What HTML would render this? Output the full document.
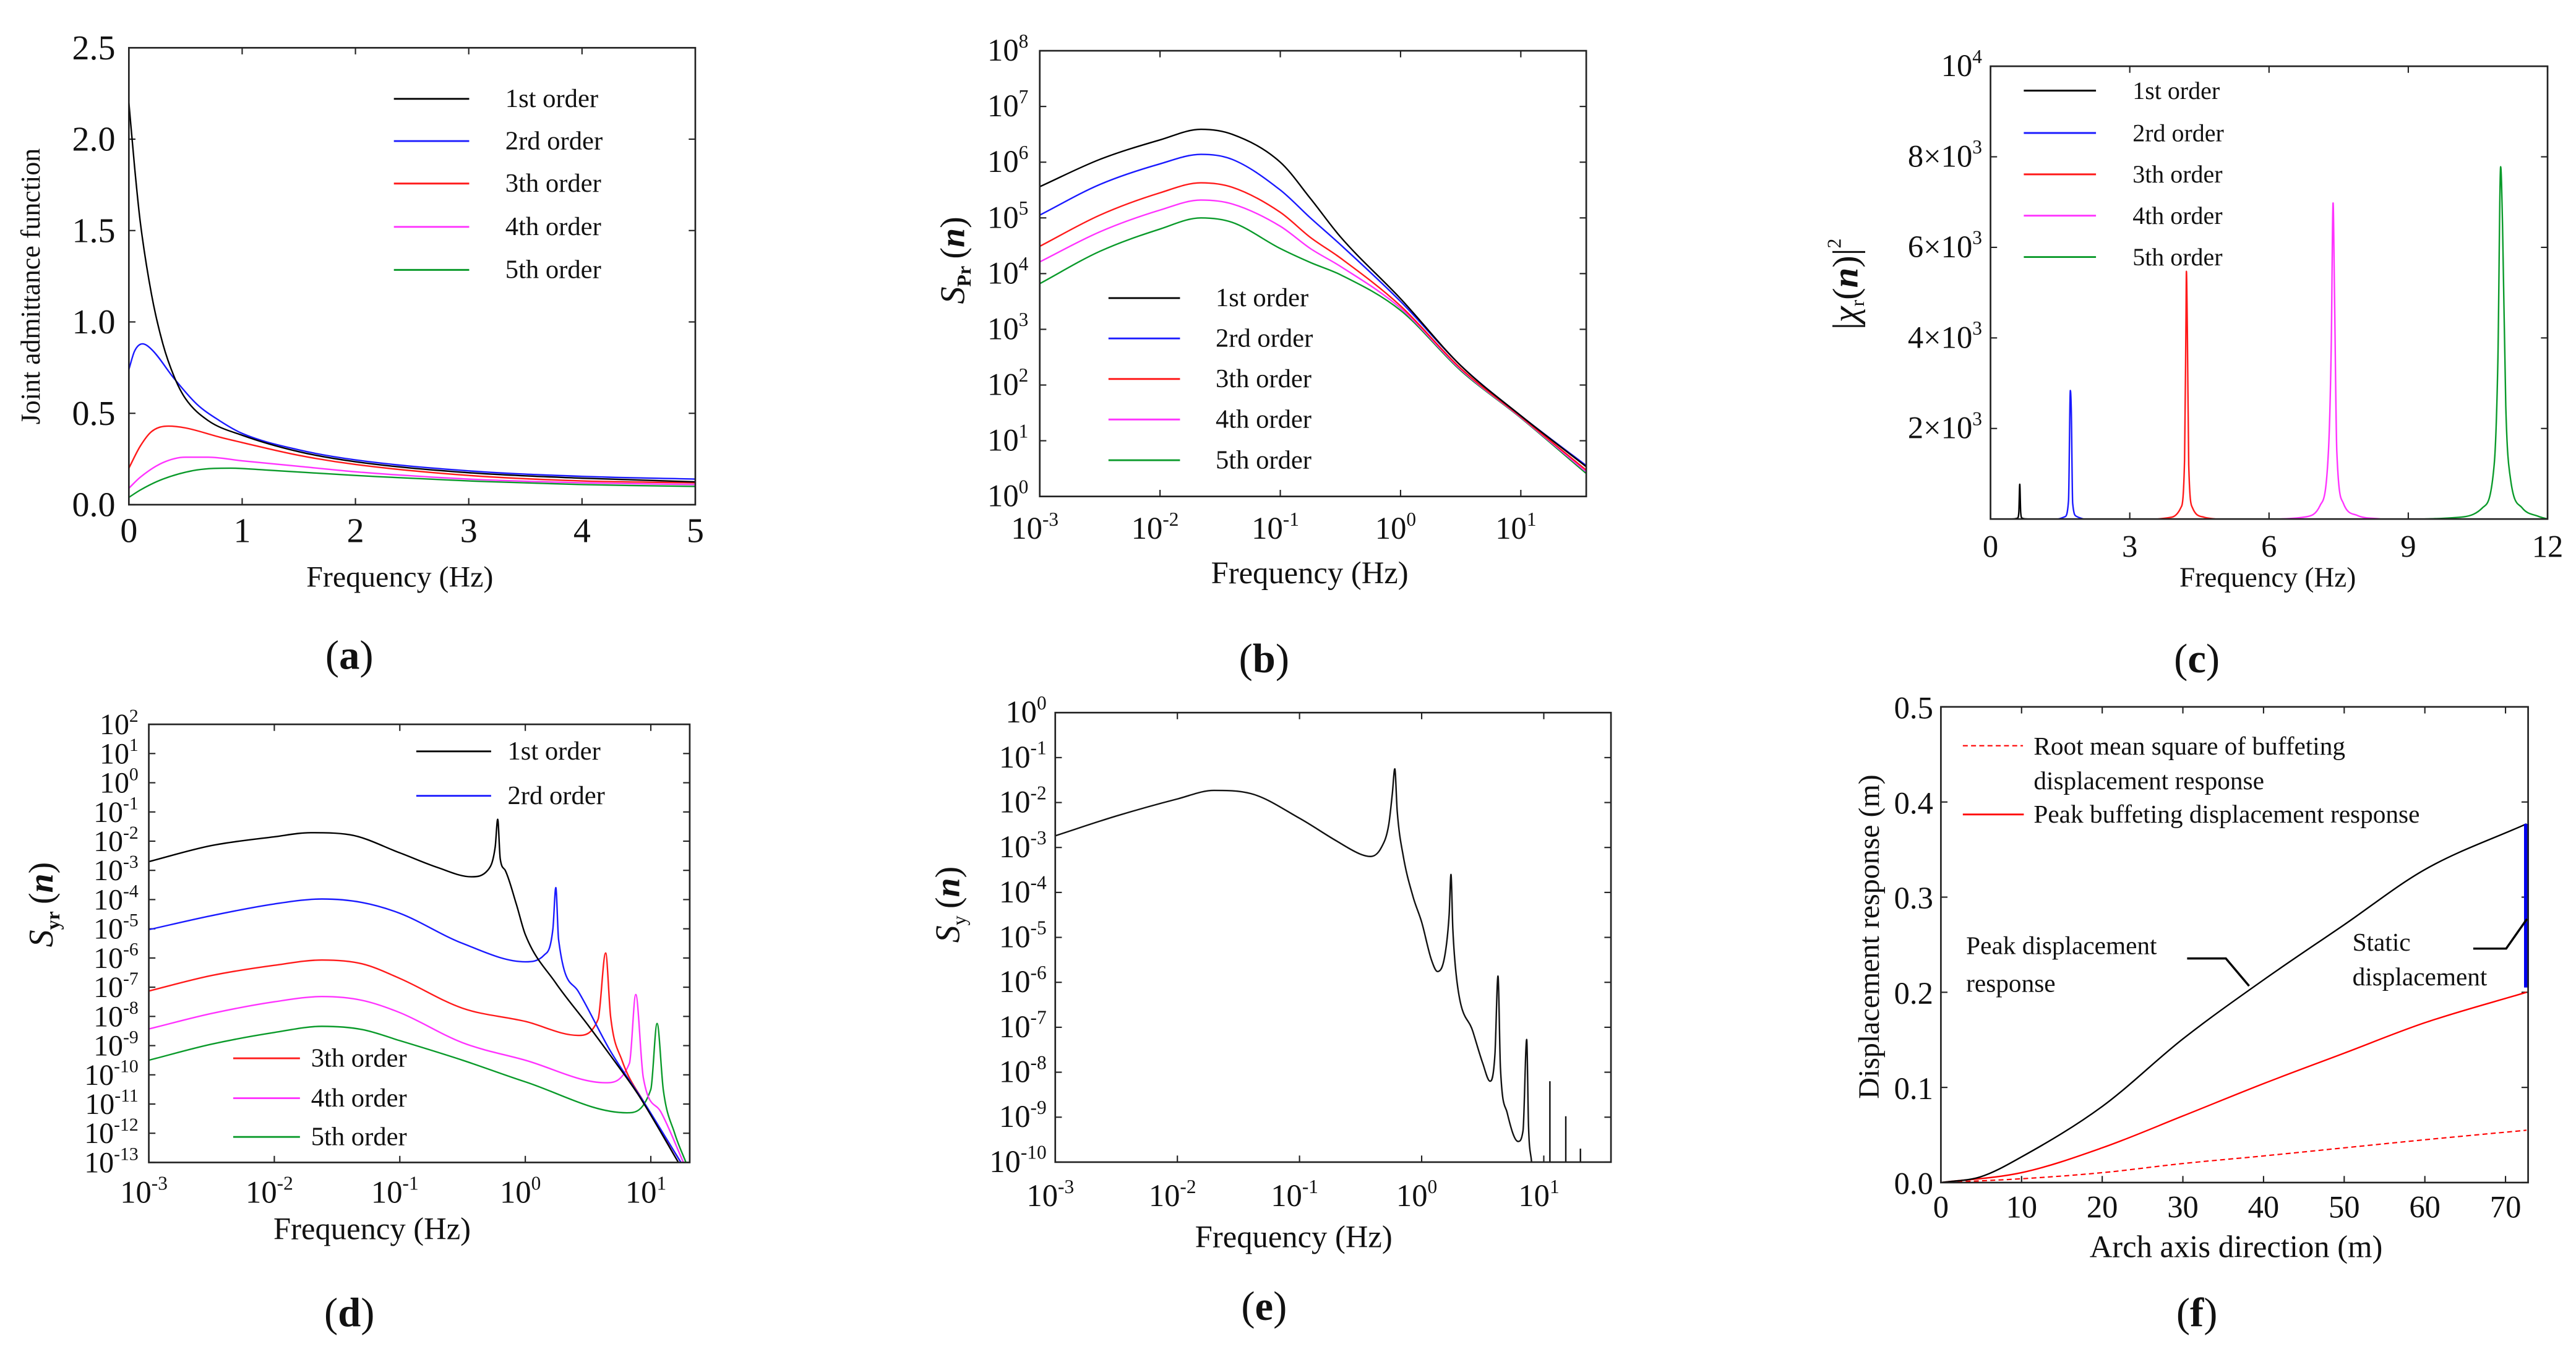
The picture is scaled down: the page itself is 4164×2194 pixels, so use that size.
<!DOCTYPE html>
<html><head><meta charset="utf-8"><title>Buffeting response figure</title>
<style>
html,body{margin:0;padding:0;background:#fff;}
svg{display:block;}
svg text{font-family:"Liberation Serif","DejaVu Serif",serif;}
</style></head>
<body>
<svg id="fig" xmlns="http://www.w3.org/2000/svg" width="4164" height="2194" viewBox="0 0 1563.06 823.57" font-family="Liberation Serif, DejaVu Serif, serif">
<rect x="0" y="0" width="1563.06" height="823.57" fill="#fff"/>
</svg>
<script>
// ---------- DATA ----------
// (a) joint admittance function
const aFreq1=[0,0.05,0.1,0.2,0.3,0.4,0.5,0.7,1,1.5,2,3,4,5];
const aVal1=[2.2,1.85,1.55,1.15,0.88,0.7,0.58,0.46,0.38,0.29,0.235,0.175,0.145,0.125];
const aFreq2=[0,0.05,0.12,0.2,0.4,0.6,0.8,1,1.5,2,3,4,5];
const aVal2=[0.74,0.84,0.88,0.85,0.69,0.55,0.46,0.39,0.3,0.245,0.185,0.155,0.14];
const aFreq3=[0,0.1,0.2,0.35,0.5,0.8,1,1.5,2,3,4,5];
const aVal3=[0.2,0.32,0.4,0.43,0.42,0.37,0.34,0.27,0.22,0.16,0.13,0.12];
const aFreq4=[0,0.1,0.3,0.5,0.7,1,1.5,2,3,4,5];
const aVal4=[0.09,0.15,0.23,0.26,0.26,0.24,0.21,0.18,0.14,0.12,0.11];
const aFreq5=[0,0.1,0.3,0.6,0.9,1.2,2,3,4,5];
const aVal5=[0.04,0.08,0.14,0.19,0.2,0.19,0.16,0.13,0.11,0.1];
const aXTicks=[0,1,2,3,4,5];
const aYTicks=[0,0.5,1.0,1.5,2.0,2.5];
const aYTickLabels=["0.0","0.5","1.0","1.5","2.0","2.5"];
const legendLabels=["1st order","2rd order","3th order","4th order","5th order"];

// (b) S_Pr(n) – log10 frequency / log10 value
const bLogFreq=[-3,-2.5,-2,-1.66,-1.4,-1,-0.75,-0.5,0,0.5,1,1.54];
const bLogS1=[5.56,6.05,6.4,6.59,6.5,6.0,5.35,4.66,3.55,2.35,1.45,0.54];
const bLogS2=[5.05,5.6,5.97,6.14,6.05,5.5,5.0,4.52,3.5,2.35,1.45,0.56];
const bLogS3=[4.49,5.05,5.45,5.63,5.55,5.1,4.65,4.28,3.42,2.3,1.43,0.48];
const bLogS4=[4.21,4.75,5.14,5.32,5.25,4.85,4.45,4.13,3.38,2.28,1.42,0.45];
const bLogS5=[3.82,4.4,4.8,5.0,4.92,4.45,4.2,3.98,3.34,2.26,1.41,0.42];
const bXTickExp=[-3,-2,-1,0,1];
const bYTickExp=[0,1,2,3,4,5,6,7,8];

// (c) |chi_r(n)|^2
const cFreq1=[0.45,0.58,0.61,0.63,0.65,0.68,0.8];
const cVal1=[0,20,150,767,150,20,0];
const cFreq2=[1.45,1.6,1.68,1.72,1.74,1.77,1.85,2.0];
const cVal2=[0,50,400,2840,2400,350,60,0];
const cFreq3=[3.6,3.9,4.1,4.18,4.21,4.22,4.24,4.27,4.35,4.6,4.85];
const cVal3=[0,40,250,1300,4300,5470,4200,1200,250,40,0];
const cFreq4=[6.25,6.8,7.1,7.28,7.34,7.38,7.41,7.46,7.6,7.9,8.4];
const cVal4=[0,50,300,1500,3800,6980,5000,1500,350,80,0];
const cFreq5=[9.35,10.2,10.6,10.85,10.93,10.99,11.03,11.1,11.2,11.45,11.8,12];
const cVal5=[0,50,250,1200,3500,7780,6500,2500,900,250,60,0];
const cXTicks=[0,3,6,9,12];
const cYTicks=[2000,4000,6000,8000,10000];
const cYTickMant=["2","4","6","8",""];

// (d) S_yr(n) – log10 frequency / log10 value
const dLogFreq1=[-3,-2.5,-2,-1.71,-1.4,-1,-0.7,-0.43,-0.3,-0.24,-0.22,-0.2,-0.16,-0.07,0,0.24,0.5,0.68,0.9,1.22];
const dLogS1=[-2.7,-2.15,-1.85,-1.71,-1.78,-2.4,-2.9,-3.22,-3.0,-2.2,-1.25,-2.6,-3.0,-4.18,-5.2,-6.84,-8.3,-9.35,-10.68,-13];
const dLogFreq2=[-3,-2.5,-2,-1.62,-1.3,-1,-0.5,0,0.15,0.22,0.243,0.265,0.42,0.68,0.95,1.24];
const dLogS2=[-5.03,-4.55,-4.15,-3.98,-4.1,-4.47,-5.5,-6.13,-5.9,-5.0,-3.59,-5.36,-7.13,-9.2,-10.97,-13];
const dLogFreq3=[-3,-2.5,-2,-1.62,-1.3,-1,-0.5,0,0.42,0.58,0.64,0.68,0.77,0.95,1.24];
const dLogS3=[-7.13,-6.6,-6.25,-6.07,-6.2,-6.7,-7.72,-8.17,-8.65,-8.1,-5.83,-8.02,-9.5,-10.97,-13];
const dLogFreq4=[-3,-2.5,-2,-1.62,-1.3,-1,-0.5,0,0.64,0.83,0.88,0.94,1.08,1.26];
const dLogS4=[-8.43,-7.9,-7.5,-7.32,-7.45,-7.87,-8.9,-9.5,-10.27,-9.6,-7.25,-10.09,-11.27,-13];
const dLogFreq5=[-3,-2.5,-2,-1.62,-1.3,-1,-0.5,0,0.81,1.0,1.05,1.1,1.19,1.28];
const dLogS5=[-9.5,-8.95,-8.55,-8.34,-8.45,-8.83,-9.5,-10.24,-11.3,-10.5,-8.24,-10.53,-12,-13];
const dXTickExp=[-3,-2,-1,0,1];
const dYTickExp=[2,1,0,-1,-2,-3,-4,-5,-6,-7,-8,-9,-10,-11,-12,-13];

// (e) S_y(n)
const eLogFreq=[-3,-2.5,-2,-1.7,-1.4,-1,-0.7,-0.5,-0.42,-0.33,-0.27,-0.24,-0.22,-0.2,-0.15,-0.07,0,0.08,0.13,0.19,0.225,0.24,0.255,0.29,0.42,0.5,0.56,0.6,0.625,0.645,0.7,0.79,0.83,0.86,0.875,0.9];
const eLogS=[-2.74,-2.3,-1.92,-1.73,-1.8,-2.35,-2.85,-3.15,-3.2,-3.0,-2.5,-1.8,-1.25,-2.2,-3.2,-4.1,-4.66,-5.5,-5.76,-5.4,-4.5,-3.6,-4.8,-6.0,-7.1,-7.8,-8.2,-7.6,-5.86,-7.9,-8.9,-9.54,-9.3,-7.27,-9.2,-10];
const eSpikeLogFreq=[1.05,1.18,1.3];
const eSpikeLogS=[-8.2,-8.98,-9.7];
const eXTickExp=[-3,-2,-1,0,1];
const eYTickExp=[0,-1,-2,-3,-4,-5,-6,-7,-8,-9,-10];

// (f) displacement response along arch axis
const fDist=[0,4.9,10,20,30,40,50,60,72.6];
const fPeakDisp=[0,0.006,0.027,0.08,0.151,0.213,0.271,0.329,0.377];
const fDistB=[0,10,20,30,40,50,60,72.6];
const fPeakBuffet=[0,0.0104,0.0365,0.07,0.104,0.136,0.168,0.2];
const fRmsBuffet=[0,0.004,0.0104,0.02,0.028,0.0365,0.045,0.055];
const fStaticX=[72.6];
const fStaticRange=[0.205,0.377];
const fXTicks=[0,10,20,30,40,50,60,70];
const fYTicks=[0,0.1,0.2,0.3,0.4,0.5];
const fYTickLabels=["0.0","0.1","0.2","0.3","0.4","0.5"];

const COLORS=["#000000","#1a1aff","#ff1a1a","#ff33ff","#0a9a2a"];

// ---------- HELPERS ----------
const NS="http://www.w3.org/2000/svg";
const svg=document.getElementById('fig');
const SERIF="Liberation Serif, DejaVu Serif, serif";
function mk(tag,attrs,parent){const e=document.createElementNS(NS,tag);for(const k in attrs)e.setAttribute(k,attrs[k]);if(tag==='text')e.setAttribute('font-family',SERIF);(parent||svg).appendChild(e);return e;}
function lin(d0,d1,r0,r1){return v=>r0+(v-d0)/(d1-d0)*(r1-r0);}
function monoPath(pts){
  const n=pts.length;if(n<2)return "";
  const dx=[],m=[];
  for(let i=0;i<n-1;i++){dx.push(pts[i+1][0]-pts[i][0]);m.push((pts[i+1][1]-pts[i][1])/(dx[i]||1e-6));}
  const t=new Array(n);t[0]=m[0];t[n-1]=m[n-2];
  for(let i=1;i<n-1;i++){t[i]=(m[i-1]*m[i]<=0)?0:(m[i-1]+m[i])/2;}
  for(let i=0;i<n-1;i++){if(m[i]===0){t[i]=0;t[i+1]=0;continue;}const a=t[i]/m[i],b=t[i+1]/m[i];const s=a*a+b*b;if(s>9){const k=3/Math.sqrt(s);t[i]=k*a*m[i];t[i+1]=k*b*m[i];}}
  let d="M"+pts[0][0].toFixed(2)+","+pts[0][1].toFixed(2);
  for(let i=0;i<n-1;i++){const h=dx[i]/3;d+=" C"+(pts[i][0]+h).toFixed(2)+","+(pts[i][1]+t[i]*h).toFixed(2)+" "+(pts[i+1][0]-h).toFixed(2)+","+(pts[i+1][1]-t[i+1]*h).toFixed(2)+" "+pts[i+1][0].toFixed(2)+","+pts[i+1][1].toFixed(2);}
  return d;
}
let clipId=0;
function frame(g,b,xt,yt,xs,ys){
  const cid='clip'+(clipId++);
  const cp=mk('clipPath',{id:cid},g);mk('rect',{x:b.x0,y:b.y0,width:b.x1-b.x0,height:b.y1-b.y0},cp);
  const tl=4;
  xt.forEach(v=>{const x=xs(v);
    const t1=mk('line',{x1:x,y1:b.y1,x2:x,y2:b.y1-tl,stroke:'#222','stroke-width':0.8},g);
    
    
    mk('line',{x1:x,y1:b.y0,x2:x,y2:b.y0+tl,stroke:'#222','stroke-width':0.8},g);});
  yt.forEach(v=>{const y=ys(v);
    const t2=mk('line',{x1:b.x0,y1:y,x2:b.x0+tl,y2:y,stroke:'#222','stroke-width':0.8},g);
    
    
    mk('line',{x1:b.x1,y1:y,x2:b.x1-tl,y2:y,stroke:'#222','stroke-width':0.8},g);});
  return cid;
}
function box(g,b){const r=mk('rect',{x:b.x0,y:b.y0,width:b.x1-b.x0,height:b.y1-b.y0,fill:'none',stroke:'#222','stroke-width':1},g);
  
  }
function txt(g,x,y,s,size,anchor,name){const t=mk('text',{x:x,y:y,'font-size':size,'text-anchor':anchor||'middle',fill:'#111'},g);t.textContent=s;
  
  return t;}
function powTxt(g,x,y,base,exp,size,anchor,name){const t=mk('text',{x:x,y:y,'font-size':size,'text-anchor':anchor,fill:'#111'},g);
  const a=mk('tspan',{},t);a.textContent=base;const b=mk('tspan',{dy:-size*0.42,'font-size':size*0.62},t);b.textContent=exp;
  
  return t;}
function series(g,pts,color,cid,name,w,dash){const p=mk('path',{d:monoPath(pts),fill:'none',stroke:color,'stroke-width':w||0.9,'clip-path':'url(#'+cid+')'},g);
  if(dash)p.setAttribute('stroke-dasharray',dash);
  
  return p;}
function legendRow(g,x1,x2,y,tx,color,label,size,name){
  const l=mk('line',{x1:x1,y1:y,x2:x2,y2:y,stroke:color,'stroke-width':1.1},g);
  
  
  txt(g,tx,y+5,label,size,'start',name+'-label');}
function panelLetter(g,x,y,letter,name){const t=mk('text',{x:x,y:y,'font-size':25,'text-anchor':'middle',fill:'#111'},g);
  const a=mk('tspan',{},t);a.textContent='(';const b=mk('tspan',{'font-weight':'bold'},t);b.textContent=letter;const c=mk('tspan',{},t);c.textContent=')';
  
  }
function group(name){const g=mk('g',{});return g;}
function zip(xa,ya,xs,ys){return xa.map((v,i)=>[xs(v),ys(ya[i])]);}

// ---------- PANEL A ----------
(function(){
  const g=group('panel-a-joint-admittance');
  const b={x0:78.2,x1:421.9,y0:29,y1:306.3};
  const xs=lin(0,5,b.x0,b.x1),ys=lin(0,2.5,b.y1,b.y0);
  const cid=frame(g,b,aXTicks,aYTicks,xs,ys);
  const fa=[aFreq1,aFreq2,aFreq3,aFreq4,aFreq5],va=[aVal1,aVal2,aVal3,aVal4,aVal5];
  for(let i=4;i>=0;i--)series(g,zip(fa[i],va[i],xs,ys),COLORS[i],cid,'series-order-'+(i+1));
  box(g,b);
  aXTicks.forEach(v=>txt(g,xs(v),329,String(v),21,'middle','x-tick-label'));
  aYTicks.forEach((v,i)=>txt(g,70,ys(v)+7,aYTickLabels[i],21,'end','y-tick-label'));
  const yl=txt(g,0,0,'Joint admittance function',16.5,'middle','y-axis-title');yl.setAttribute('transform','translate(24,173.8) rotate(-90)');
  txt(g,242.6,356,'Frequency (Hz)',18,'middle','x-axis-title');
  const ly=[60,85.6,111.4,137.7,163.8];
  legendLabels.forEach((s,i)=>legendRow(g,239,284.7,ly[i],306.6,COLORS[i],s,16,'legend-entry-'+(i+1)));
  panelLetter(g,212,406,'a','panel-label-a');
})();

// ---------- PANEL B ----------
(function(){
  const g=group('panel-b-spr');
  const b={x0:630.9,x1:962.5,y0:30.8,y1:301.3};
  const xs=lin(-3,1.544,b.x0,b.x1),ys=lin(0,8,b.y1,b.y0);
  const cid=frame(g,b,bXTickExp,bYTickExp,xs,ys);
  const va=[bLogS1,bLogS2,bLogS3,bLogS4,bLogS5];
  for(let i=4;i>=0;i--)series(g,zip(bLogFreq,va[i],xs,ys),COLORS[i],cid,'series-order-'+(i+1));
  box(g,b);
  bXTickExp.forEach(v=>powTxt(g,xs(v)-3,327,'10',String(v),19,'middle','x-tick-label'));
  bYTickExp.forEach(v=>powTxt(g,624,ys(v)+6,'10',String(v),19,'end','y-tick-label'));
  const t=mk('text',{'font-size':21,'text-anchor':'middle',fill:'#111',transform:'translate(585,158) rotate(-90)'},g);
  const s1=mk('tspan',{'font-style':'italic'},t);s1.textContent='S';
  const s2=mk('tspan',{'font-size':12,dy:4,'font-weight':'bold'},t);s2.textContent='Pr';
  const s3=mk('tspan',{dy:-4},t);s3.textContent='\u2009(';
  const s4=mk('tspan',{'font-style':'italic','font-weight':'bold'},t);s4.textContent='n';
  const s5=mk('tspan',{},t);s5.textContent=')';
  
  
  txt(g,794.7,354,'Frequency (Hz)',19,'middle','x-axis-title');
  const ly=[180.9,205.4,230,254.6,279.3];
  legendLabels.forEach((s,i)=>legendRow(g,672.6,716,ly[i],737.6,COLORS[i],s,16,'legend-entry-'+(i+1)));
  panelLetter(g,767,408,'b','panel-label-b');
})();

// ---------- PANEL C ----------
(function(){
  const g=group('panel-c-mechanical-admittance');
  const b={x0:1207.8,x1:1545.8,y0:40.2,y1:315};
  const xs=lin(0,12,b.x0,b.x1),ys=lin(0,10000,b.y1,b.y0);
  const cid=frame(g,b,cXTicks,cYTicks,xs,ys);
  const fa=[cFreq1,cFreq2,cFreq3,cFreq4,cFreq5],va=[cVal1,cVal2,cVal3,cVal4,cVal5];
  for(let i=0;i<5;i++)series(g,zip(fa[i],va[i],xs,ys),COLORS[i],cid,'series-order-'+(i+1),0.9);
  box(g,b);
  cXTicks.forEach(v=>txt(g,xs(v),338,String(v),19,'middle','x-tick-label'));
  cYTicks.forEach((v,i)=>{
    if(cYTickMant[i]==="") powTxt(g,1202.7,ys(v)+6,'10','4',19,'end','y-tick-label');
    else powTxt(g,1202.7,ys(v)+6,cYTickMant[i]+'\u00d710','3',19,'end','y-tick-label');
  });
  const t=mk('text',{'font-size':22,'text-anchor':'middle',fill:'#111',transform:'translate(1127,172.4) rotate(-90)'},g);
  const a1=mk('tspan',{},t);a1.textContent='|';
  const a2=mk('tspan',{'font-style':'italic'},t);a2.textContent='\u03c7';
  const a3=mk('tspan',{'font-size':12,dy:4},t);a3.textContent='r';
  const a4=mk('tspan',{dy:-4},t);a4.textContent='(';
  const a5=mk('tspan',{'font-style':'italic','font-weight':'bold'},t);a5.textContent='n';
  const a6=mk('tspan',{},t);a6.textContent=')|';
  const a7=mk('tspan',{'font-size':12,dy:-10},t);a7.textContent='2';
  
  
  txt(g,1376,356,'Frequency (Hz)',17,'middle','x-axis-title');
  const ly=[55,80.7,105.8,130.9,156];
  legendLabels.forEach((s,i)=>legendRow(g,1228,1271.8,ly[i],1294,COLORS[i],s,15,'legend-entry-'+(i+1)));
  panelLetter(g,1333,408,'c','panel-label-c');
})();

// ---------- PANEL D ----------
(function(){
  const g=group('panel-d-syr');
  const b={x0:90.3,x1:418.5,y0:439.6,y1:705.5};
  const xs=lin(-3,1.31,b.x0,b.x1),ys=lin(-13,2,b.y1,b.y0);
  const cid=frame(g,b,dXTickExp,dYTickExp,xs,ys);
  const fa=[dLogFreq1,dLogFreq2,dLogFreq3,dLogFreq4,dLogFreq5],va=[dLogS1,dLogS2,dLogS3,dLogS4,dLogS5];
  for(let i=4;i>=0;i--)series(g,zip(fa[i],va[i],xs,ys),COLORS[i],cid,'series-order-'+(i+1));
  box(g,b);
  dXTickExp.forEach(v=>powTxt(g,xs(v)-3,730,'10',String(v),19,'middle','x-tick-label'));
  dYTickExp.forEach(v=>powTxt(g,84,ys(v)+6,'10',String(v),18,'end','y-tick-label'));
  const t=mk('text',{'font-size':21,'text-anchor':'middle',fill:'#111',transform:'translate(32,549) rotate(-90)'},g);
  const s1=mk('tspan',{'font-style':'italic'},t);s1.textContent='S';
  const s2=mk('tspan',{'font-size':12,dy:4,'font-weight':'bold'},t);s2.textContent='yr';
  const s3=mk('tspan',{dy:-4},t);s3.textContent='\u2009(';
  const s4=mk('tspan',{'font-style':'italic','font-weight':'bold'},t);s4.textContent='n';
  const s5=mk('tspan',{},t);s5.textContent=')';
  
  
  txt(g,225.8,752,'Frequency (Hz)',19,'middle','x-axis-title');
  legendRow(g,252.6,298,456,308,COLORS[0],legendLabels[0],16,'legend-entry-1');
  legendRow(g,252.6,298,483,308,COLORS[1],legendLabels[1],16,'legend-entry-2');
  legendRow(g,141.5,182,642.3,188.7,COLORS[2],legendLabels[2],16,'legend-entry-3');
  legendRow(g,141.5,182,666.5,188.7,COLORS[3],legendLabels[3],16,'legend-entry-4');
  legendRow(g,141.5,182,690,188.7,COLORS[4],legendLabels[4],16,'legend-entry-5');
  panelLetter(g,212,805,'d','panel-label-d');
})();

// ---------- PANEL E ----------
(function(){
  const g=group('panel-e-sy');
  const b={x0:640.3,x1:977.5,y0:432.5,y1:705.3};
  const xs=lin(-3,1.55,b.x0,b.x1),ys=lin(-10,0,b.y1,b.y0);
  const cid=frame(g,b,eXTickExp,eYTickExp,xs,ys);
  series(g,zip(eLogFreq,eLogS,xs,ys),'#111',cid,'series-sy',0.9);
  eSpikeLogFreq.forEach((v,i)=>{const l=mk('line',{x1:xs(v),y1:b.y1,x2:xs(v),y2:ys(eSpikeLogS[i]),stroke:'#111','stroke-width':0.9},g);
    
    });
  box(g,b);
  eXTickExp.forEach(v=>powTxt(g,xs(v)-3,732,'10',String(v),19,'middle','x-tick-label'));
  eYTickExp.forEach(v=>powTxt(g,635,ys(v)+6,'10',String(v),19,'end','y-tick-label'));
  const t=mk('text',{'font-size':21,'text-anchor':'middle',fill:'#111',transform:'translate(582,549) rotate(-90)'},g);
  const s1=mk('tspan',{'font-style':'italic'},t);s1.textContent='S';
  const s2=mk('tspan',{'font-size':12,dy:4},t);s2.textContent='y';
  const s3=mk('tspan',{dy:-4},t);s3.textContent='\u2009(';
  const s4=mk('tspan',{'font-style':'italic','font-weight':'bold'},t);s4.textContent='n';
  const s5=mk('tspan',{},t);s5.textContent=')';
  
  
  txt(g,785,757,'Frequency (Hz)',19,'middle','x-axis-title');
  panelLetter(g,767,801,'e','panel-label-e');
})();

// ---------- PANEL F ----------
(function(){
  const g=group('panel-f-displacement');
  const b={x0:1177.7,x1:1534,y0:429,y1:717.7};
  const xs=lin(0,72.8,b.x0,b.x1),ys=lin(0,0.5,b.y1,b.y0);
  const cid=frame(g,b,fXTicks,fYTicks,xs,ys);
  series(g,zip(fDistB,fRmsBuffet,xs,ys),'#ff0000',cid,'series-rms-buffeting',0.8,'3,2');
  series(g,zip(fDistB,fPeakBuffet,xs,ys),'#ff0000',cid,'series-peak-buffeting',0.9);
  series(g,zip(fDist,fPeakDisp,xs,ys),'#000',cid,'series-peak-displacement',0.9);
  const sb=mk('line',{x1:xs(fStaticX[0]),y1:ys(fStaticRange[0]),x2:xs(fStaticX[0]),y2:ys(fStaticRange[1]),stroke:'#0000ee','stroke-width':3},g);
  
  
  box(g,b);
  fXTicks.forEach(v=>txt(g,xs(v),739,String(v),19,'middle','x-tick-label'));
  fYTicks.forEach((v,i)=>txt(g,1173,ys(v)+7,fYTickLabels[i],19,'end','y-tick-label'));
  const yl=txt(g,0,0,'Displacement response (m)',18,'middle','y-axis-title');yl.setAttribute('transform','translate(1140,568.5) rotate(-90)');
  txt(g,1356.8,763,'Arch axis direction (m)',19,'middle','x-axis-title');
  const l1=mk('line',{x1:1191,y1:452.6,x2:1227.5,y2:452.6,stroke:'#ff0000','stroke-width':0.8,'stroke-dasharray':'3,2'},g);
  
  
  txt(g,1234,458,'Root mean square of buffeting',15.5,'start','legend-rms-label');
  txt(g,1234,479,'displacement response',15.5,'start','legend-rms-label-line2');
  legendRow(g,1191,1228,494.3,1234,'#ff0000','Peak buffeting displacement response',15.5,'legend-peak-buffeting');
  txt(g,1193,579,'Peak displacement',15.5,'start','annotation-peak-displacement');
  txt(g,1193,602,'response',15.5,'start','annotation-peak-displacement-line2');
  const p1=mk('polyline',{points:'1327.1,581.7 1350.6,581.7 1364.7,598.4',fill:'none',stroke:'#000','stroke-width':1.3},g);
  
  
  txt(g,1427.4,577,'Static',15.5,'start','annotation-static');
  txt(g,1427.4,598,'displacement',15.5,'start','annotation-static-line2');
  const p2=mk('polyline',{points:'1500.7,575.7 1520.7,575.7 1533.3,557.7',fill:'none',stroke:'#000','stroke-width':1.3},g);
  
  
  panelLetter(g,1333,805,'f','panel-label-f');
})();
</script>
</body></html>
